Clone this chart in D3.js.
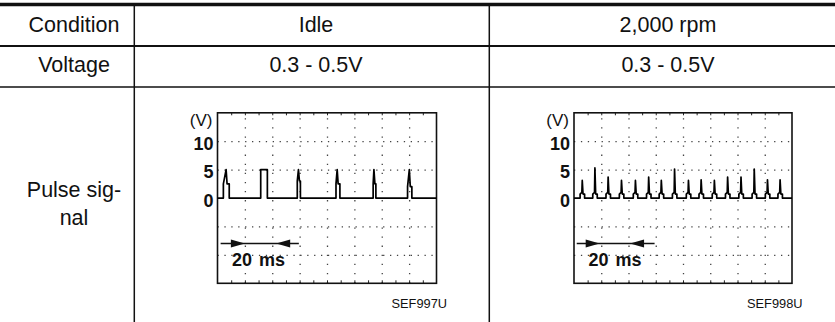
<!DOCTYPE html>
<html><head><meta charset="utf-8">
<script src="https://cdn.jsdelivr.net/npm/d3@7/dist/d3.min.js"></script>
<style>
body{margin:0;background:#fff}
svg{display:block}
text{font-family:"Liberation Sans",Arial,Helvetica,sans-serif}
</style>
</head><body>
<svg id="chart" width="835" height="322"></svg>
<script>
// ---------- data ----------
const headerRow = ["Condition", "Idle", "2,000 rpm"];
const voltageRow = ["Voltage", "0.3 - 0.5V", "0.3 - 0.5V"];
const signalLabel = ["Pulse sig-", "nal"];
const figureCodes = ["SEF997U", "SEF998U"];
const voltTickLabels = [0, 5, 10];
const voltGrid = [-10, -5, 5, 10];
const timeGrid = [7, 14, 21, 28, 35, 42, 49];
const edgeTicks = [3.5, 7, 10.5, 14, 17.5, 21, 24.5, 28, 31.5, 35, 38.5, 42, 45.5, 49, 52.5];
const timeDomain = [0, 56];      // ms across the screen
const voltDomain = [-15, 15];    // V

// Idle: pulse start (ms), width (ms), spike time (ms), shoulder (V), peak (V)
const idleStart    = [1.5, 11.05, 20.4, 30.3, 39.8, 48.6];
const idleWidth    = [1.5, 1.7, 0.8, 1.0, 0.7, 1.1];
const idleSpike    = [2.2, 11.15, 20.7, 30.6, 40.0, 49.05];
const idleShoulder = [2.5, 5, 3, 2.5, 2.5, 2];
const idlePeak     = [5, 5, 5, 5, 5, 5];

// 2,000 rpm: spike time (ms) and peak (V)
const rpmTimes = [2.12, 5.37, 8.77, 12.2, 15.78, 19.18, 22.43, 25.83, 29.4, 32.66, 36.06, 39.46, 42.9, 46.3, 49.7, 52.94];
const rpmPeaks = [3.1, 5.3, 3.7, 3.1, 3.1, 3.7, 3.1, 5.1, 3.1, 3.2, 3.1, 3.7, 3.7, 5.1, 3.2, 3.2];
const rpmShoulder = 0.7;

// 20 ms measurement marker (ms / V)
const markerLabel = "20 ms";
const markerStart = [0.8, 0.7];
const markerEnd = [20.8, 20.7];
const markerTipsRight = [7.0, 6.6];
const markerTipsLeft = [15.0, 14.4];
const markerVolt = -8;

// ---------- drawing ----------
const svg = d3.select("#chart");
svg.append("rect").attr("width", 835).attr("height", 322).attr("fill", "#fff");

// table
const ink = "#111";
const tbl = svg.append("g");
tbl.append("line").attr("x1", 0).attr("x2", 835).attr("y1", 4.5).attr("y2", 4.5).attr("stroke", ink).attr("stroke-width", 3.6);
tbl.append("line").attr("x1", 0).attr("x2", 835).attr("y1", 46).attr("y2", 46).attr("stroke", ink).attr("stroke-width", 2);
tbl.append("line").attr("x1", 0).attr("x2", 835).attr("y1", 87).attr("y2", 87).attr("stroke", ink).attr("stroke-width", 1.3);
[134.3, 489.3].forEach(xv => tbl.append("line").attr("x1", xv).attr("x2", xv).attr("y1", 4).attr("y2", 322).attr("stroke", ink).attr("stroke-width", 1.5));

const colCenters = [74, 316, 668];
const fs = 21.5;
headerRow.forEach((t, i) => tbl.append("text").attr("x", colCenters[i]).attr("y", 31.5).attr("text-anchor", "middle").attr("font-size", fs).attr("fill", ink).text(t));
voltageRow.forEach((t, i) => tbl.append("text").attr("x", colCenters[i]).attr("y", 72.3).attr("text-anchor", "middle").attr("font-size", fs).attr("fill", ink).text(t));
signalLabel.forEach((t, i) => tbl.append("text").attr("x", colCenters[0]).attr("y", 197.3 + i * 28).attr("text-anchor", "middle").attr("font-size", fs).attr("fill", ink).text(t));

// build waveforms
function idleWave() {
  const pts = [[timeDomain[0], 0]];
  idleStart.forEach((s, i) => {
    const w = idleWidth[i], sp = idleSpike[i], sh = idleShoulder[i], pk = idlePeak[i];
    pts.push([s, 0], [s, sh], [sp, pk], [Math.min(sp + 0.25, s + w), sh], [s + w, sh], [s + w, 0]);
  });
  pts.push([timeDomain[1], 0]);
  return pts;
}
function rpmWave() {
  const pts = [[timeDomain[0], 0]];
  rpmTimes.forEach((t, i) => {
    pts.push([t - 0.55, 0], [t - 0.55, rpmShoulder], [t - 0.1, rpmShoulder + 0.3], [t, rpmPeaks[i]], [t + 0.2, rpmShoulder], [t + 0.6, rpmShoulder], [t + 0.6, 0]);
  });
  pts.push([timeDomain[1], 0]);
  return pts;
}

const boxes = [[217.5, 436.5], [574, 792]];
const yRange = [283.3, 112.8];
const waves = [idleWave(), rpmWave()];

boxes.forEach((bx, k) => {
  const x = d3.scaleLinear().domain(timeDomain).range(bx);
  const y = d3.scaleLinear().domain(voltDomain).range(yRange);
  const g = svg.append("g");
  const W = bx[1] - bx[0], H = yRange[0] - yRange[1];

  // dotted grid via axes
  const gy = g.append("g").attr("transform", `translate(${bx[0]},0)`)
    .call(d3.axisLeft(y).tickValues(voltGrid).tickSize(-W).tickFormat(""));
  gy.select(".domain").remove();
  gy.selectAll("line").attr("stroke", "#444").attr("stroke-width", 1.3).attr("stroke-dasharray", "1.3 5.6");
  const gx = g.append("g").attr("transform", `translate(0,${yRange[0]})`)
    .call(d3.axisBottom(x).tickValues(timeGrid).tickSize(-H).tickFormat(""));
  gx.select(".domain").remove();
  gx.selectAll("line").attr("stroke", "#444").attr("stroke-width", 1.3).attr("stroke-dasharray", "1.3 7.8");

  // edge ticks
  const eb = g.append("g").attr("transform", `translate(0,${yRange[0]})`)
    .call(d3.axisBottom(x).tickValues(edgeTicks).tickSize(-3).tickFormat(""));
  eb.select(".domain").remove();
  eb.selectAll("line").attr("stroke", "#222").attr("stroke-width", 1);
  const et = g.append("g").attr("transform", `translate(0,${yRange[1]})`)
    .call(d3.axisTop(x).tickValues(edgeTicks).tickSize(-2.5).tickFormat(""));
  et.select(".domain").remove();
  et.selectAll("line").attr("stroke", "#222").attr("stroke-width", 1);

  // frame
  g.append("rect").attr("x", bx[0]).attr("y", yRange[1]).attr("width", W).attr("height", H)
    .attr("fill", "none").attr("stroke", "#111").attr("stroke-width", 1.6);

  // voltage labels
  const ya = g.append("g").attr("transform", `translate(${bx[0]},0)`)
    .call(d3.axisLeft(y).tickValues(voltTickLabels).tickSize(0).tickPadding(4).tickFormat(d3.format("d")));
  ya.select(".domain").remove();
  ya.selectAll("text").attr("font-size", 18).attr("font-weight", "bold").attr("fill", "#111")
    .attr("font-family", '"Liberation Sans",Arial,sans-serif').attr("dy", "0.45em");
  g.append("text").attr("x", bx[0] - 5).attr("y", y(12.6)).attr("text-anchor", "end")
    .attr("font-size", 17).attr("fill", "#111").text("(V)");

  // trace
  const line = d3.line().x(d => x(d[0])).y(d => y(d[1]));
  g.append("path").datum(waves[k]).attr("d", line).attr("fill", "none")
    .attr("stroke", "#000").attr("stroke-width", 1.7).attr("stroke-linejoin", "round");

  // 20 ms marker
  const my = y(markerVolt);
  g.append("line").attr("x1", x(markerStart[k])).attr("x2", x(markerEnd[k])).attr("y1", my).attr("y2", my)
    .attr("stroke", "#111").attr("stroke-width", 1.6);
  const tr = x(markerTipsRight[k]), tl = x(markerTipsLeft[k]);
  g.append("path").attr("d", `M${tr},${my}L${tr - 14},${my - 4}L${tr - 14},${my + 4}Z`).attr("fill", "#111");
  g.append("path").attr("d", `M${tl},${my}L${tl + 14},${my - 4}L${tl + 14},${my + 4}Z`).attr("fill", "#111");
  const mt = g.append("text").attr("x", x(3.7)).attr("y", y(-12)).attr("font-size", 18).attr("font-weight", "bold").attr("fill", "#111");
  const parts = markerLabel.split(" ");
  mt.append("tspan").text(parts[0]);
  mt.append("tspan").attr("dx", 7).text(parts[1]);

  // figure code
  g.append("text").attr("x", bx[1] + 10.5).attr("y", 308.3).attr("text-anchor", "end")
    .attr("font-size", 12.8).attr("fill", "#111").text(figureCodes[k]);
});
</script>
</body></html>
